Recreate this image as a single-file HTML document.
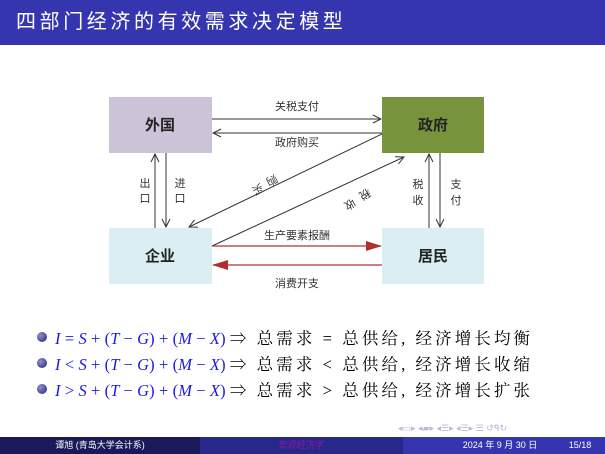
<!DOCTYPE html>
<html><head><meta charset="utf-8"><style>
body{margin:0;width:605px;height:454px;overflow:hidden;background:#fff;position:relative;font-family:"Liberation Sans","Noto Sans CJK SC",sans-serif}
.hdr{position:absolute;left:0;top:0;width:605px;height:45px;background:#3535b0;color:#fff;font-size:20px;line-height:45px;padding-left:16px;box-sizing:border-box;font-family:"Liberation Sans","WenQuanYi Zen Hei",sans-serif;letter-spacing:3.6px;font-weight:300}
.f{position:absolute;top:437px;height:17px;font-size:9px;line-height:17px;color:#fff;text-align:center}
.li{position:absolute;left:55px;font-size:16.5px;color:#000;font-family:"Liberation Serif","Noto Serif CJK SC",serif;white-space:nowrap}
.c{letter-spacing:3.1px}
.m{color:#1a1ae6;font-style:italic;letter-spacing:0.1px}
.m span{font-style:normal}
.b{position:absolute;left:37px;width:10px;height:10px;border-radius:50%;background:radial-gradient(circle at 35% 35%,#9090d0,#20206a)}
</style></head><body>
<div class="hdr">四部门经济的有效需求决定模型</div>
<svg width="605" height="454" style="position:absolute;left:0;top:0" font-family="Liberation Sans,Noto Sans CJK SC,sans-serif">
<defs>
<marker id="a" markerWidth="10" markerHeight="10" refX="9" refY="5" orient="auto" markerUnits="userSpaceOnUse"><path d="M1,1 L9,5 L1,9" fill="none" stroke="#333" stroke-width="1"/></marker>
<marker id="r" markerWidth="16" markerHeight="10" refX="15" refY="5" orient="auto" markerUnits="userSpaceOnUse"><path d="M0,0 L16,5 L0,10 Z" fill="#b03030"/></marker>
</defs>
<rect x="109" y="97" width="103" height="56" fill="#cdc3d9"/>
<rect x="382" y="97" width="102" height="56" fill="#77933c"/>
<rect x="109" y="228" width="103" height="56" fill="#dbeef4"/>
<rect x="382" y="228" width="102" height="56" fill="#dbeef4"/>
<g font-size="15" font-weight="bold" fill="#222" text-anchor="middle">
<text x="160" y="130">外国</text><text x="433" y="130">政府</text>
<text x="160" y="261">企业</text><text x="433" y="261">居民</text></g>
<g stroke="#333" stroke-width="1" fill="none">
<line x1="212" y1="119" x2="381" y2="119" marker-end="url(#a)"/>
<line x1="382" y1="133" x2="213" y2="133" marker-end="url(#a)"/>
<line x1="155" y1="228" x2="155" y2="154" marker-end="url(#a)"/>
<line x1="166" y1="153" x2="166" y2="227" marker-end="url(#a)"/>
<line x1="429" y1="228" x2="429" y2="154" marker-end="url(#a)"/>
<line x1="440" y1="153" x2="440" y2="227" marker-end="url(#a)"/>
<line x1="382" y1="134" x2="189" y2="227" marker-end="url(#a)"/>
<line x1="212" y1="246" x2="404" y2="157" marker-end="url(#a)"/>
</g>
<line x1="212" y1="246" x2="381" y2="246" stroke="#b03030" stroke-width="1.3" marker-end="url(#r)"/>
<line x1="382" y1="265" x2="213" y2="265" stroke="#b03030" stroke-width="1.3" marker-end="url(#r)"/>
<g font-size="11" fill="#333" text-anchor="middle">
<text x="297" y="110">关税支付</text><text x="297" y="146">政府购买</text>
<text x="297" y="239">生产要素报酬</text><text x="297" y="287">消费开支</text>
<text x="145" y="187">出</text><text x="145" y="202">口</text>
<text x="180" y="187">进</text><text x="180" y="202">口</text>
<text x="418" y="188">税</text><text x="418" y="204">收</text>
<text x="456" y="188">支</text><text x="456" y="204">付</text>
<text transform="translate(270,177) rotate(150)">购</text>
<text transform="translate(256,186) rotate(150)">买</text>
<text transform="translate(363,191) rotate(150)">税</text>
<text transform="translate(348,201) rotate(150)">收</text>
</g>
<g fill="#b8b8dd" font-size="9"><text x="398" y="431">◂▭▸ ◂▰▸ ◂☰▸ ◂☰▸ ☰ ↺ᑫ↻</text></g>
</svg>
<div class="b" style="top:332px"></div><div class="b" style="top:358px"></div><div class="b" style="top:384px"></div>
<div class="li" style="top:325px"><span class="m">I <span>=</span> S <span>+ (</span>T <span>−</span> G<span>) + (</span>M <span>−</span> X<span>)</span></span> <span class="c">⇒ 总需求 = 总供给, 经济增长均衡</span></div>
<div class="li" style="top:351px"><span class="m">I <span>&lt;</span> S <span>+ (</span>T <span>−</span> G<span>) + (</span>M <span>−</span> X<span>)</span></span> <span class="c">⇒ 总需求 &lt; 总供给, 经济增长收缩</span></div>
<div class="li" style="top:377px"><span class="m">I <span>&gt;</span> S <span>+ (</span>T <span>−</span> G<span>) + (</span>M <span>−</span> X<span>)</span></span> <span class="c">⇒ 总需求 &gt; 总供给, 经济增长扩张</span></div>
<div class="f" style="left:0;width:200px;background:#1a1a5a">谭旭 (青岛大学会计系)</div>
<div class="f" style="left:200px;width:203px;background:#28288a;color:#8a1a9a">宏观经济学</div>
<div class="f" style="left:403px;width:202px;background:#3535b0"></div>
<div class="f" style="left:450px;width:100px">2024 年 9 月 30 日</div>
<div class="f" style="left:565px;width:30px">15/18</div>
</body></html>
